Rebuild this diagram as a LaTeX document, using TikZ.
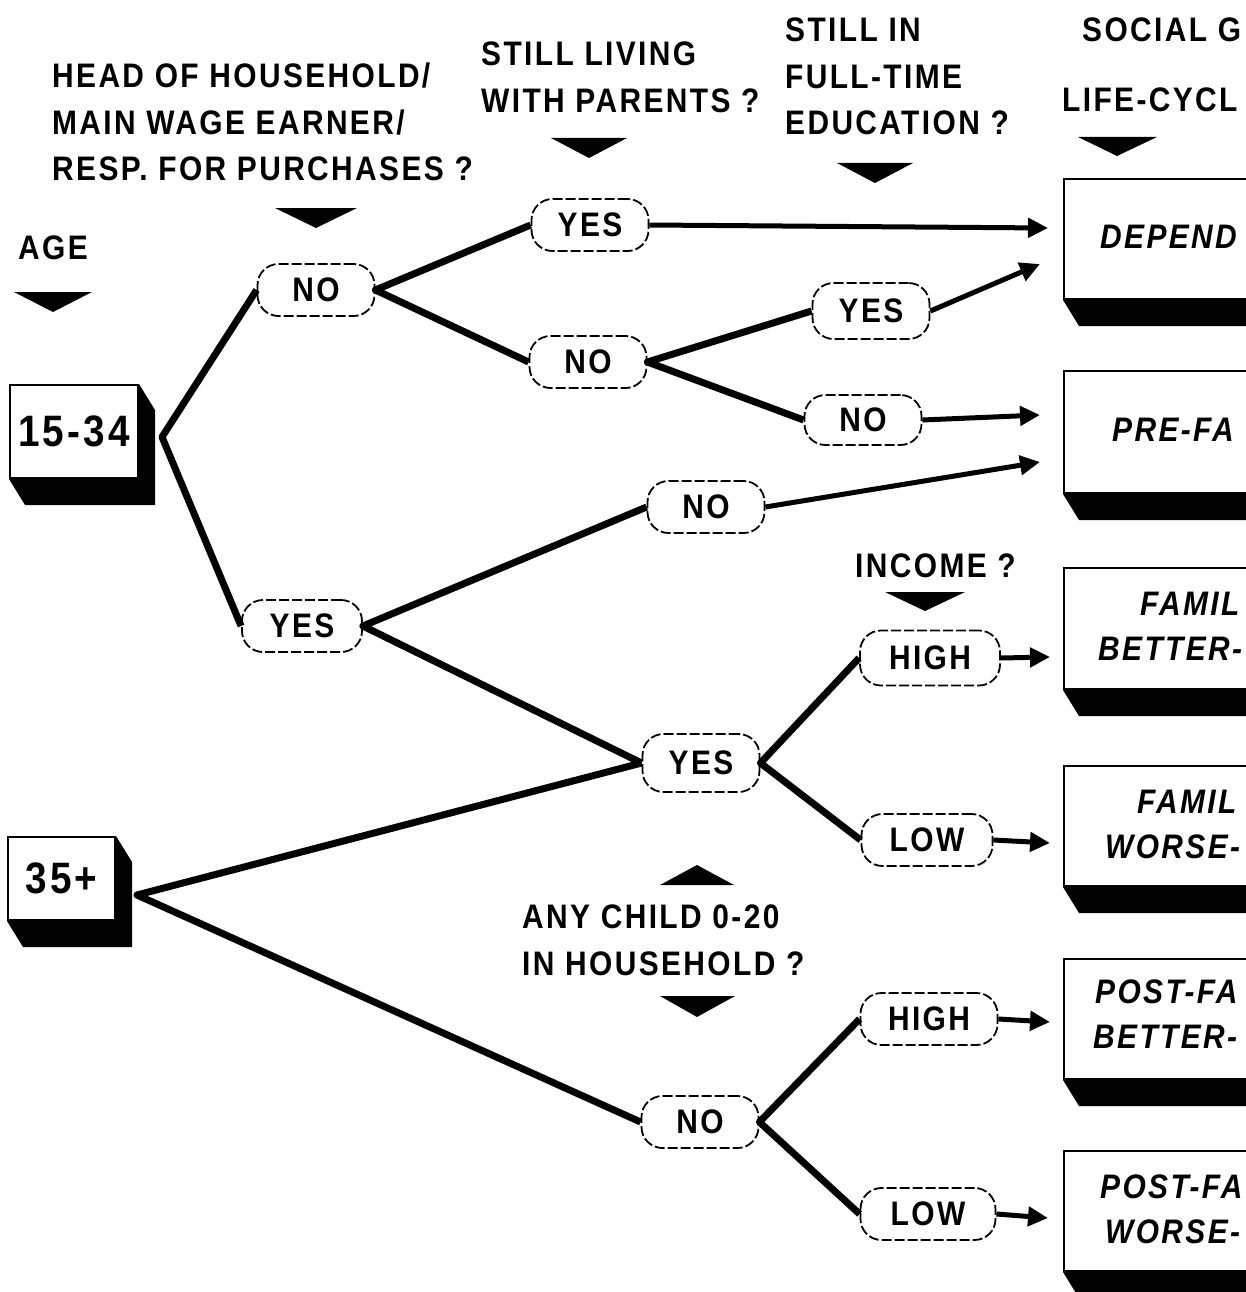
\documentclass[tikz,border=0pt]{standalone}
\usepackage{fontspec}
\newfontfamily\labfont[FakeStretch=0.88,LetterSpace=7]{Liberation Sans}
\usetikzlibrary{arrows.meta,calc}
\newcommand\shadowfor[1]{%
  \fill ($(#1.north east)$) -- ($(#1.north east)+(16,26)$) -- ($(#1.south east)+(16,26)$)
    -- ($(#1.south west)+(16,26)$) -- (#1.south west) -- (#1.south east) -- cycle;}
\begin{document}
\begin{tikzpicture}[x=1pt,y=-1pt,
  lab/.style={font=\labfont\bfseries\fontsize{34}{46.5}\selectfont, inner sep=0pt, align=left, anchor=north west},
  choice/.style={draw, line width=1.8pt, dash pattern=on 10pt off 3pt, rounded corners=21pt,
     minimum width=117pt, minimum height=52pt, inner sep=0pt, fill=white,
     font=\labfont\bfseries\fontsize{34}{40}\selectfont},
  wide/.style={choice, minimum width=137pt},
  agebox/.style={draw, line width=2pt, fill=white, inner sep=0pt,
     font=\labfont\bfseries\fontsize{44}{50}\selectfont},
  resbox/.style={draw, line width=2pt, fill=white, anchor=north west, minimum width=320pt, inner sep=0pt},
  restext/.style={font=\labfont\bfseries\itshape\fontsize{34}{46}\selectfont, inner sep=0pt, anchor=north west},
  branch/.style={line width=7pt, line join=round},
  res/.style={line width=5pt, -{Triangle[length=20pt,width=19pt]}},
  tri/.style={fill=black}
]
\useasboundingbox (0,0) rectangle (1246,1292);
\clip (0,0) rectangle (1246,1292);

% ---------- header labels ----------
\node[lab] (hage) at (18,236) {AGE};
\node[lab] (hhead) at (52,63) {HEAD OF HOUSEHOLD/\\MAIN WAGE EARNER/\\RESP. FOR PURCHASES ?};
\node[lab] (hpar) at (481,42) {STILL LIVING\\WITH PARENTS ?};
\node[lab] (hedu) at (785,18) {STILL IN\\FULL-TIME\\EDUCATION ?};
\node[lab] (hsoc1) at (1082,18) {SOCIAL G};
\node[lab] (hsoc2) at (1062,88) {LIFE-CYCL};
\node[lab] (hinc) at (855,554) {INCOME ?};
\node[lab] (hchild) at (522,905) {ANY CHILD 0-20\\IN HOUSEHOLD ?};

% ---------- triangles ----------
\fill[tri] (14,292) -- (92,292) -- (53,312) -- cycle;
\fill[tri] (275,208) -- (357,208) -- (316,228) -- cycle;
\fill[tri] (551,138) -- (627,138) -- (589,158) -- cycle;
\fill[tri] (837,163) -- (913,163) -- (875,183) -- cycle;
\fill[tri] (1078,137) -- (1157,137) -- (1117,156) -- cycle;
\fill[tri] (885,592) -- (965,592) -- (925,611) -- cycle;
\fill[tri] (660,885) -- (734,885) -- (697,865) -- cycle;
\fill[tri] (660,996) -- (735,996) -- (697,1017) -- cycle;

% ---------- age boxes ----------
\node[agebox, minimum width=128pt, minimum height=93pt] (y1534) at (74,431.5) {15-34};
\shadowfor{y1534}
\node[agebox, minimum width=107pt, minimum height=83pt] (y35) at (61.5,878.5) {35+};
\shadowfor{y35}
\coordinate (v1) at (162,437);
\coordinate (v2) at (137,895);

% ---------- result boxes ----------
\node[resbox, minimum height=120pt] (r1) at (1063,178) {};
\shadowfor{r1}
\node[resbox, minimum height=122pt] (r2) at (1063,370) {};
\shadowfor{r2}
\node[resbox, minimum height=121pt] (r3) at (1063,567) {};
\shadowfor{r3}
\node[resbox, minimum height=120pt] (r4) at (1063,765) {};
\shadowfor{r4}
\node[resbox, minimum height=120pt] (r5) at (1063,958) {};
\shadowfor{r5}
\node[resbox, minimum height=120pt] (r6) at (1063,1150) {};
\shadowfor{r6}

\node[restext] (r1a) at (1100,225) {DEPEND};
\node[restext] (r2a) at (1112,418) {PRE-FA};
\node[restext] (r3a) at (1140,592) {FAMIL};
\node[restext] (r3b) at (1098,637) {BETTER-};
\node[restext] (r4a) at (1137,790) {FAMIL};
\node[restext] (r4b) at (1105,835) {WORSE-};
\node[restext] (r5a) at (1095,980) {POST-FA};
\node[restext] (r5b) at (1093,1025) {BETTER-};
\node[restext] (r6a) at (1100,1175) {POST-FA};
\node[restext] (r6b) at (1105,1220) {WORSE-};

% ---------- choice nodes ----------
\node[choice] (no1) at (316,290) {NO};
\node[choice] (yes1) at (590,225) {YES};
\node[choice] (no2) at (588,362) {NO};
\node[choice, minimum height=56pt] (yes2) at (871,311) {YES};
\node[choice, minimum height=50pt] (no3) at (863,420) {NO};
\node[choice] (no4) at (706,507) {NO};
\node[choice, minimum width=120pt] (yes3) at (302,626) {YES};
\node[choice, minimum height=58pt] (yes4) at (701,763) {YES};
\node[wide, minimum width=140pt, minimum height=55pt] (high1) at (930,658) {HIGH};
\node[wide, minimum width=131pt] (low1) at (927,840) {LOW};
\node[choice] (no5) at (700,1122) {NO};
\node[wide] (high2) at (929,1019) {HIGH};
\node[wide, minimum width=135pt] (low2) at (928,1214) {LOW};

% ---------- arrow targets ----------
\coordinate (t1) at (1048,228);
\coordinate (t2) at (1040,264);
\coordinate (t3) at (1040,415);
\coordinate (t4) at (1040,462);
\coordinate (t5) at (1050,657);
\coordinate (t6) at (1050,843);
\coordinate (t7) at (1050,1022);
\coordinate (t8) at (1048,1218);

% ---------- branches ----------
\draw[branch] (no1.west) -- (v1) -- (yes3.west);
\draw[branch] (yes1.west) -- (no1.east) -- (no2.west);
\draw[branch] (yes2.west) -- (no2.east) -- (no3.west);
\draw[branch] (no4.west) -- (yes3.east) -- (yes4.west);
\draw[branch] (yes4.west) -- (v2) -- (no5.west);
\draw[branch] (high1.west) -- (yes4.east) -- (low1.west);
\draw[branch] (high2.west) -- (no5.east) -- (low2.west);

% ---------- arrows to results ----------
\draw[res] (yes1.east) -- (t1);
\draw[res] (yes2.east) -- (t2);
\draw[res] (no3.east) -- (t3);
\draw[res] (no4.east) -- (t4);
\draw[res] (high1.east) -- (t5);
\draw[res] (low1.east) -- (t6);
\draw[res] (high2.east) -- (t7);
\draw[res] (low2.east) -- (t8);
\end{tikzpicture}
\end{document}
